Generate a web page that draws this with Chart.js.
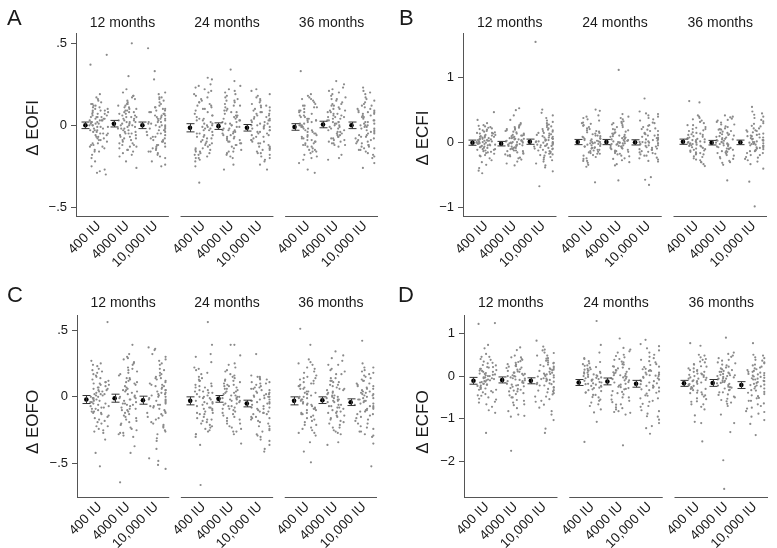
<!DOCTYPE html>
<html>
<head>
<meta charset="utf-8">
<script src="https://cdn.jsdelivr.net/npm/chart.js@4.4.1/dist/chart.umd.min.js"></script>
<style>
  body { margin: 0; background: #fff; }
  #wrap { position: relative; width: 777px; height: 548px; }
  #wrap canvas { position: absolute; }
</style>
</head>
<body>
<div id="wrap">
  <canvas id="cA" width="388" height="270" style="left:0;top:0"></canvas>
  <canvas id="cB" width="389" height="270" style="left:388px;top:0"></canvas>
  <canvas id="cC" width="388" height="270" style="left:0;top:278px"></canvas>
  <canvas id="cD" width="389" height="270" style="left:388px;top:278px"></canvas>
</div>
<script>
const doseLabels = ['400 IU', '4000 IU', '10,000 IU'];
const monthLabels = ['12 months', '24 months', '36 months'];

// A: change in EOFI, one list per dose (400, 4000, 10,000 IU)
const eofi12 = [
  [.43,.37,.19,.17,.16,.14,.13,.12,.11,.10,.09,.09,.08,.07,.07,.06,.05,.05,.04,.04,.03,.03,.02,.02,.01,.01,.00,.00,-.01,-.01,-.02,-.03,-.03,-.04,-.05,-.05,-.06,-.07,-.08,-.09,-.10,-.11,-.12,-.13,-.14,-.15,-.16,-.18,-.20,-.22,-.25,-.27,-.28,-.29,-.30,
   .15,.12,.10,.08,.06,.05,.04,.03,.02,.01,-.01,-.02,-.04,-.06,-.07,-.09,-.11,-.13,.11,.09,.07,.03,.00,-.03,-.05,-.08,-.12,-.16,.13,.05],
  [.50,.30,.22,.20,.18,.17,.15,.14,.13,.12,.11,.10,.09,.08,.08,.07,.06,.05,.05,.04,.03,.03,.02,.02,.01,.00,.00,-.01,-.02,-.02,-.03,-.04,-.05,-.05,-.06,-.07,-.08,-.09,-.10,-.11,-.12,-.13,-.14,-.15,-.16,-.18,-.19,-.22,-.26,
   .16,.13,.11,.09,.07,.06,.04,.03,.01,.00,-.01,-.03,-.04,-.06,-.07,-.09,-.11,-.13,-.15,.12,.08,.05,.02,-.02,-.05,-.08,-.12,.18,.10,-.17],
  [.47,.33,.28,.20,.19,.17,.16,.14,.12,.11,.10,.09,.08,.07,.06,.06,.05,.04,.04,.03,.02,.02,.01,.00,.00,-.01,-.02,-.03,-.03,-.04,-.05,-.06,-.07,-.08,-.09,-.10,-.11,-.12,-.13,-.14,-.15,-.16,-.17,-.18,-.20,-.22,-.24,-.25,
   .15,.13,.11,.09,.08,.06,.05,.03,.02,.01,-.01,-.02,-.04,-.05,-.07,-.08,-.10,-.12,-.14,.10,.07,.04,.00,-.03,-.06,-.09,-.13,.17,-.16,-.19]
];
const eofi24 = [
  [.29,.28,.25,.23,.21,.19,.18,.16,.15,.14,.12,.11,.10,.08,.07,.06,.05,.04,.03,.02,.01,.00,-.01,-.02,-.03,-.04,-.05,-.06,-.07,-.08,-.09,-.10,-.11,-.12,-.13,-.14,-.15,-.16,-.17,-.18,-.19,-.20,-.21,-.22,-.25,-.35,
   .20,.17,.13,.09,.06,.03,.00,-.02,-.05,-.07,-.10,-.12,-.15,-.17,-.20,.24,.14,.10,.04,.01,-.03,-.06,-.08,-.11,-.14,-.18,.22,.12,-.01,-.16],
  [.34,.27,.24,.21,.19,.17,.15,.14,.13,.12,.10,.09,.08,.07,.06,.05,.04,.04,.03,.02,.01,.00,-.01,-.02,-.03,-.03,-.04,-.05,-.06,-.07,-.08,-.09,-.10,-.11,-.12,-.14,-.15,-.16,-.17,-.19,-.20,-.24,-.27,
   .22,.18,.16,.11,.08,.06,.05,.03,.01,.00,-.02,-.04,-.05,-.07,-.09,-.11,-.13,-.16,.20,.12,.09,.02,-.01,-.03,-.06,-.08,-.10,-.12,.15,-.18],
  [.22,.21,.18,.16,.15,.13,.12,.11,.10,.09,.08,.07,.06,.05,.04,.03,.03,.02,.01,.00,.00,-.01,-.02,-.03,-.04,-.05,-.06,-.07,-.08,-.09,-.10,-.11,-.12,-.13,-.14,-.15,-.16,-.17,-.18,-.20,-.21,-.22,-.24,-.27,
   .19,.17,.14,.11,.09,.07,.05,.04,.02,.01,-.01,-.02,-.04,-.05,-.07,-.09,-.11,-.13,-.15,-.17,.12,.08,.03,.00,-.03,-.06,-.10,-.14,-.19,.06]
];
const eofi36 = [
  [.33,.19,.17,.16,.15,.13,.12,.11,.10,.09,.08,.07,.06,.05,.05,.04,.03,.03,.02,.01,.00,.00,-.01,-.02,-.03,-.04,-.05,-.06,-.07,-.08,-.09,-.10,-.11,-.12,-.13,-.14,-.15,-.16,-.17,-.18,-.20,-.23,-.27,-.29,
   .18,.14,.11,.08,.06,.04,.02,.01,-.01,-.02,-.04,-.05,-.07,-.09,-.11,-.13,-.16,-.19,.12,.09,.03,.00,-.03,-.06,-.08,-.10,-.12,-.15,.16,-.21],
  [.27,.25,.23,.21,.19,.17,.16,.15,.13,.12,.11,.10,.09,.08,.07,.06,.05,.05,.04,.03,.02,.02,.01,.00,-.01,-.02,-.03,-.04,-.05,-.06,-.07,-.08,-.09,-.10,-.11,-.12,-.13,-.18,-.20,-.21,
   .22,.20,.18,.14,.12,.10,.08,.07,.05,.03,.02,.00,-.01,-.03,-.05,-.06,-.08,-.10,-.12,.16,.13,.09,.04,.01,-.02,-.04,-.07,-.09,-.11,.06],
  [.23,.21,.19,.17,.15,.14,.12,.11,.10,.09,.08,.08,.07,.06,.05,.04,.03,.02,.01,.00,.00,-.01,-.02,-.03,-.04,-.05,-.06,-.07,-.08,-.09,-.10,-.11,-.12,-.13,-.14,-.15,-.16,-.18,-.19,-.20,-.23,-.26,
   .20,.16,.13,.10,.08,.07,.05,.03,.02,.01,-.01,-.02,-.04,-.05,-.07,-.09,-.11,-.13,-.15,-.17,.12,.09,.06,.00,-.03,-.06,-.08,-.10,-.12,-.14]
];
const eofiMeans = [[0.00, 0.01, 0.00], [-0.015, -0.005, -0.015], [-0.01, 0.005, 0.00]];
const eofiCI = [[0.02, 0.02, 0.02], [0.025, 0.02, 0.02], [0.02, 0.02, 0.02]];
const eofiTicks = [-0.5, 0, 0.5];
const eofiTickLabels = ['\u2212.5', '0', '.5'];

// B: change in ECFI
const ecfi12 = [
  [.47,.35,.30,.27,.25,.23,.21,.19,.18,.16,.15,.14,.12,.11,.10,.09,.08,.07,.06,.05,.04,.03,.03,.02,.01,.00,.00,-.01,-.02,-.03,-.04,-.05,-.06,-.07,-.08,-.10,-.11,-.12,-.14,-.15,-.17,-.19,-.21,-.24,-.27,-.30,-.34,-.39,-.43,-.47,
   .26,.22,.20,.17,.14,.12,.10,.08,.06,.05,.04,.02,.01,-.01,-.02,-.04,-.06,-.08,-.10,-.13,-.16,-.20,.15,.09,.03,.00,-.03,-.07,-.11,.24],
  [.53,.50,.42,.35,.30,.27,.24,.22,.20,.18,.16,.14,.12,.11,.10,.08,.07,.06,.05,.04,.03,.02,.01,.00,-.01,-.02,-.03,-.04,-.05,-.06,-.08,-.09,-.10,-.12,-.13,-.15,-.17,-.19,-.21,-.23,-.26,-.29,-.32,-.35,
   .28,.25,.21,.17,.14,.11,.09,.07,.05,.03,.02,.00,-.01,-.03,-.05,-.07,-.10,-.13,-.16,-.20,-.24,.19,.12,.06,.01,-.04,-.08,-.12,-.18,.23],
  [1.55,.51,.46,.42,.38,.34,.30,.27,.24,.21,.19,.17,.15,.13,.11,.09,.08,.06,.05,.04,.03,.02,.01,.00,-.01,-.02,-.03,-.04,-.05,-.06,-.08,-.09,-.11,-.12,-.14,-.16,-.18,-.20,-.23,-.26,-.29,-.32,-.35,-.38,-.44,-.67,
   .32,.28,.25,.22,.18,.15,.12,.10,.08,.06,.04,.02,.01,-.01,-.03,-.05,-.07,-.10,-.13,-.15,-.19,-.22,-.27,.20,.14,.07,.00,-.04,-.09,-.17]
];
const ecfi24 = [
  [.51,.49,.42,.38,.34,.30,.27,.24,.21,.19,.17,.15,.13,.11,.09,.07,.06,.05,.03,.02,.01,.00,-.01,-.02,-.04,-.05,-.06,-.08,-.09,-.11,-.13,-.15,-.17,-.19,-.22,-.25,-.28,-.31,-.34,-.37,-.61,
   .40,.36,.31,.26,.22,.18,.14,.11,.08,.06,.04,.01,-.01,-.03,-.06,-.08,-.11,-.14,-.17,-.20,-.24,-.28,.29,.16,.10,.03,-.02,-.07,-.12,-.16],
  [1.12,.44,.40,.36,.33,.30,.27,.24,.21,.19,.16,.14,.12,.10,.09,.07,.05,.04,.03,.02,.01,.00,-.01,-.02,-.03,-.05,-.06,-.08,-.10,-.12,-.14,-.16,-.18,-.21,-.24,-.27,-.30,-.33,-.35,-.58,
   .38,.32,.28,.24,.20,.17,.13,.11,.08,.06,.04,.02,.00,-.02,-.04,-.06,-.09,-.11,-.14,-.17,-.20,-.25,.30,.15,.09,.03,-.01,-.05,-.08,-.13],
  [.68,.48,.45,.42,.38,.34,.30,.27,.24,.21,.18,.15,.13,.11,.09,.07,.05,.04,.02,.01,.00,-.01,-.02,-.04,-.05,-.07,-.09,-.11,-.13,-.15,-.18,-.20,-.23,-.26,-.29,-.53,-.57,-.65,
   .44,.40,.36,.31,.26,.22,.18,.14,.11,.08,.06,.03,.01,-.01,-.03,-.06,-.08,-.11,-.14,-.17,-.20,-.24,-.28,.20,.12,.05,.00,-.04,-.10,-.16]
];
const ecfi36 = [
  [.64,.62,.42,.38,.34,.30,.27,.24,.21,.18,.16,.14,.12,.10,.08,.06,.05,.04,.02,.01,.00,-.01,-.02,-.03,-.05,-.06,-.08,-.10,-.12,-.14,-.16,-.18,-.21,-.24,-.27,-.30,-.33,-.36,
   .40,.36,.32,.27,.23,.19,.15,.12,.09,.07,.04,.02,.00,-.02,-.04,-.07,-.09,-.12,-.15,-.18,-.22,-.26,-.30,.21,.13,.06,.01,-.05,-.11,-.17],
  [.42,.40,.37,.34,.31,.28,.25,.22,.20,.17,.15,.13,.11,.09,.07,.05,.04,.03,.01,.00,-.01,-.02,-.04,-.05,-.07,-.09,-.11,-.13,-.15,-.17,-.19,-.22,-.25,-.28,-.31,-.34,-.58,
   .39,.35,.32,.28,.24,.21,.18,.15,.12,.10,.08,.05,.03,.01,-.01,-.03,-.06,-.08,-.10,-.13,-.16,-.20,-.24,-.30,.20,.13,.06,-.02,-.09,-.14],
  [.55,.48,.43,.38,.33,.29,.25,.22,.19,.17,.14,.12,.10,.08,.07,.05,.04,.02,.01,.00,-.01,-.02,-.04,-.05,-.07,-.09,-.11,-.13,-.16,-.19,-.22,-.25,-.29,-.33,-.40,-.60,-.98,
   .45,.40,.35,.30,.26,.22,.19,.16,.13,.10,.08,.06,.03,.01,-.01,-.03,-.05,-.08,-.10,-.13,-.16,-.19,-.23,-.27,.18,.11,.04,-.02,-.07,-.12]
];
const ecfiMeans = [[0.00, -0.015, 0.015], [0.01, 0.01, 0.005], [0.015, 0.00, 0.005]];
const ecfiCI = [[0.04, 0.035, 0.04], [0.04, 0.04, 0.04], [0.04, 0.035, 0.035]];
const ecfiTicks = [-1, 0, 1];
const ecfiTickLabels = ['\u22121', '0', '1'];

// C: change in EOFO
const eofo12 = [
  [.56,.27,.25,.23,.21,.19,.17,.15,.14,.12,.11,.10,.09,.08,.07,.06,.05,.04,.03,.02,.02,.01,.00,-.01,-.02,-.03,-.04,-.05,-.06,-.07,-.08,-.09,-.10,-.11,-.12,-.14,-.15,-.17,-.18,-.20,-.22,-.24,-.26,-.27,-.32,-.42,-.52,
   .24,.20,.16,.13,.11,.09,.07,.05,.04,.02,.01,-.01,-.02,-.04,-.05,-.07,-.09,-.11,-.13,-.16,-.19,-.22,.18,.10,.06,.00,-.03,-.08,-.12,-.25],
  [.39,.32,.30,.28,.26,.24,.22,.20,.18,.16,.14,.13,.11,.10,.08,.07,.05,.04,.03,.01,.00,-.01,-.02,-.04,-.05,-.06,-.08,-.09,-.10,-.12,-.13,-.15,-.17,-.19,-.21,-.23,-.25,-.27,-.29,-.30,-.37,-.42,-.64,
   .29,.25,.21,.17,.14,.11,.09,.06,.04,.02,.00,-.01,-.03,-.05,-.07,-.09,-.11,-.14,-.16,-.18,-.20,-.24,-.27,.19,.12,.05,-.02,-.06,-.10,-.28],
  [.37,.36,.35,.30,.27,.24,.21,.18,.16,.14,.12,.11,.09,.08,.07,.05,.04,.03,.02,.01,.00,-.01,-.02,-.03,-.05,-.06,-.07,-.09,-.10,-.12,-.13,-.15,-.17,-.19,-.21,-.23,-.26,-.28,-.31,-.33,-.39,-.46,-.48,-.51,-.54,
   .32,.28,.25,.20,.17,.15,.13,.10,.08,.06,.05,.03,.01,.00,-.02,-.04,-.06,-.08,-.11,-.14,-.16,-.20,-.22,-.25,.14,.09,.02,-.03,-.07,-.12]
];
const eofo24 = [
  [.56,.39,.32,.30,.26,.22,.20,.17,.14,.12,.10,.08,.07,.05,.04,.03,.02,.00,-.01,-.02,-.04,-.05,-.06,-.08,-.09,-.10,-.12,-.13,-.15,-.17,-.18,-.20,-.22,-.24,-.26,-.28,-.30,-.36,-.66,
   .21,.18,.15,.12,.09,.07,.05,.03,.01,-.01,-.03,-.05,-.07,-.09,-.11,-.13,-.16,-.19,-.21,-.23,-.25,-.28,.13,.08,.04,.00,-.04,-.08,-.12,-.17],
  [.39,.39,.31,.25,.22,.19,.16,.14,.12,.11,.09,.08,.07,.06,.04,.03,.02,.01,.00,-.01,-.02,-.03,-.05,-.06,-.07,-.09,-.10,-.12,-.14,-.16,-.18,-.20,-.22,-.24,-.26,-.28,-.35,
   .24,.20,.17,.15,.12,.10,.08,.06,.05,.03,.01,.00,-.02,-.03,-.05,-.07,-.09,-.11,-.13,-.15,-.17,-.20,-.23,-.26,.13,.09,.04,-.01,-.04,-.08],
  [.32,.16,.15,.14,.13,.11,.10,.08,.07,.06,.05,.04,.03,.02,.01,.00,.00,-.01,-.02,-.03,-.04,-.05,-.06,-.08,-.09,-.10,-.11,-.12,-.13,-.15,-.16,-.18,-.20,-.22,-.24,-.26,-.28,-.30,-.33,-.36,-.39,-.41,
   .15,.13,.11,.09,.07,.05,.03,.02,.00,-.02,-.03,-.05,-.07,-.09,-.11,-.13,-.15,-.17,-.19,-.22,-.25,-.29,-.32,.10,.06,.01,-.04,-.08,-.12,-.16]
];
const eofo36 = [
  [.51,.39,.28,.26,.24,.21,.18,.16,.14,.13,.11,.10,.08,.07,.06,.04,.03,.02,.01,.00,-.01,-.02,-.03,-.05,-.06,-.07,-.09,-.10,-.12,-.13,-.15,-.17,-.19,-.21,-.23,-.25,-.27,-.29,-.34,-.41,-.49,
   .25,.22,.19,.15,.12,.10,.08,.06,.04,.02,.00,-.02,-.04,-.06,-.08,-.10,-.12,-.14,-.16,-.18,-.21,-.24,-.27,.14,.09,.03,-.01,-.05,-.09,-.13],
  [.34,.31,.27,.24,.21,.19,.17,.14,.12,.11,.09,.08,.06,.05,.04,.03,.02,.01,.00,-.01,-.02,-.03,-.04,-.06,-.07,-.08,-.09,-.11,-.12,-.14,-.15,-.17,-.19,-.21,-.23,-.25,-.27,-.28,-.34,-.36,
   .29,.24,.20,.17,.14,.11,.09,.07,.05,.03,.01,-.01,-.02,-.04,-.06,-.08,-.10,-.12,-.14,-.16,-.18,-.20,-.23,-.26,.12,.06,.00,-.03,-.07,-.11],
  [.42,.25,.22,.20,.18,.16,.14,.12,.10,.09,.08,.06,.05,.04,.03,.02,.01,.00,-.01,-.02,-.03,-.04,-.05,-.07,-.08,-.09,-.10,-.11,-.13,-.14,-.16,-.18,-.20,-.22,-.24,-.26,-.28,-.30,-.35,-.52,
   .22,.19,.17,.15,.12,.10,.08,.06,.04,.02,.01,-.01,-.03,-.05,-.07,-.09,-.11,-.13,-.15,-.17,-.20,-.23,-.26,-.29,.13,.07,.03,-.02,-.06,-.10]
];
const eofoMeans = [[-0.02, -0.01, -0.025], [-0.03, -0.015, -0.05], [-0.03, -0.025, -0.04]];
const eofoCI = [[0.03, 0.03, 0.03], [0.03, 0.025, 0.025], [0.03, 0.025, 0.025]];
const eofoTicks = [-0.5, 0, 0.5];
const eofoTickLabels = ['\u2212.5', '0', '.5'];

// D: change in ECFO
const ecfo12 = [
  [1.24,1.22,.73,.65,.52,.45,.40,.34,.30,.25,.21,.17,.14,.10,.07,.04,.02,.00,-.03,-.05,-.08,-.10,-.13,-.15,-.18,-.20,-.23,-.26,-.29,-.32,-.35,-.38,-.42,-.46,-.50,-.55,-.60,-.66,-.72,-.80,-.86,-1.33,
   .45,.38,.31,.26,.21,.17,.13,.10,.06,.03,.00,-.03,-.07,-.10,-.14,-.18,-.22,-.27,-.32,-.38,-.45,-.53,-.62,.20,.12,.05,-.05,-.12,-.20,-.30],
  [.67,.61,.48,.44,.40,.35,.31,.27,.23,.19,.15,.11,.08,.05,.02,.00,-.03,-.06,-.09,-.12,-.15,-.18,-.21,-.24,-.28,-.32,-.36,-.40,-.45,-.50,-.56,-.62,-.68,-.75,-.82,-.90,-.93,-.95,-1.75,
   .44,.38,.33,.28,.24,.20,.16,.12,.08,.05,.02,-.01,-.05,-.08,-.12,-.16,-.20,-.25,-.30,-.36,-.42,-.50,-.58,-.66,.22,.10,.00,-.10,-.22,-.34],
  [.83,.69,.60,.54,.48,.42,.37,.32,.27,.23,.19,.15,.12,.08,.05,.02,.00,-.03,-.06,-.09,-.12,-.16,-.19,-.22,-.26,-.30,-.34,-.38,-.43,-.48,-.54,-.60,-.67,-.74,-.82,-.90,-1.03,-1.23,-1.33,
   .62,.55,.48,.41,.36,.31,.26,.22,.18,.14,.10,.06,.03,-.01,-.05,-.09,-.13,-.17,-.22,-.27,-.33,-.40,-.48,-.58,.30,.16,.04,-.07,-.19,-.36]
];
const ecfo24 = [
  [1.29,.73,.55,.40,.33,.28,.24,.20,.16,.13,.10,.07,.04,.02,.00,-.03,-.05,-.08,-.11,-.14,-.17,-.20,-.23,-.27,-.31,-.35,-.39,-.44,-.49,-.55,-.62,-.70,-.78,-.85,-1.07,-1.54,
   .42,.35,.30,.25,.21,.17,.13,.09,.06,.03,.00,-.04,-.07,-.11,-.15,-.19,-.23,-.28,-.33,-.38,-.44,-.50,-.58,-.66,.15,.08,-.02,-.09,-.18,-.25],
  [.88,.66,.58,.50,.44,.38,.32,.27,.22,.17,.13,.09,.05,.02,.00,-.03,-.07,-.10,-.14,-.18,-.22,-.26,-.30,-.35,-.40,-.45,-.50,-.55,-.61,-.67,-.73,-.78,-.82,-.86,-.90,-1.62,
   .62,.55,.47,.40,.34,.28,.23,.18,.14,.10,.06,.02,-.02,-.06,-.10,-.15,-.20,-.25,-.31,-.37,-.43,-.50,-.58,-.66,-.75,-.84,.20,.08,-.05,-.28],
  [.85,.75,.65,.55,.45,.38,.32,.26,.21,.16,.12,.08,.04,.01,-.02,-.05,-.08,-.12,-.15,-.19,-.23,-.27,-.31,-.36,-.41,-.46,-.52,-.58,-.65,-.72,-.80,-.88,-.95,-1.02,-1.10,-1.17,-1.22,-1.35,
   .70,.60,.50,.42,.35,.28,.22,.17,.12,.08,.04,.00,-.04,-.08,-.12,-.17,-.22,-.27,-.33,-.39,-.45,-.52,-.60,-.70,-.82,-.94,.14,.02,-.10,-.25]
];
const ecfo36 = [
  [.77,.71,.50,.44,.38,.32,.27,.22,.18,.14,.10,.06,.03,.00,-.03,-.06,-.09,-.12,-.15,-.19,-.22,-.26,-.30,-.34,-.38,-.43,-.48,-.54,-.60,-.66,-.72,-.78,-.92,-1.07,-1.10,-1.53,
   .48,.40,.34,.28,.23,.18,.14,.10,.06,.02,-.02,-.06,-.10,-.14,-.18,-.23,-.28,-.33,-.39,-.45,-.52,-.59,-.66,.12,.04,-.04,-.12,-.20,-.30,-.40],
  [.90,.55,.48,.42,.36,.30,.25,.20,.16,.12,.08,.05,.02,.00,-.02,-.05,-.08,-.11,-.14,-.17,-.21,-.25,-.29,-.33,-.38,-.43,-.48,-.53,-.59,-.65,-.70,-.90,-1.10,-1.31,-1.97,-2.64,
   .52,.45,.38,.32,.27,.22,.18,.14,.10,.06,.03,.00,-.03,-.06,-.10,-.14,-.18,-.22,-.27,-.32,-.38,-.44,-.50,-.56,-.62,.10,.02,-.06,-.16,-.26],
  [.77,.50,.44,.38,.32,.27,.22,.18,.14,.10,.07,.04,.01,-.02,-.05,-.08,-.11,-.14,-.18,-.21,-.25,-.29,-.33,-.37,-.42,-.47,-.52,-.58,-.64,-.70,-.76,-.82,-.88,-.95,-1.03,-1.12,-1.38,
   .48,.42,.36,.30,.25,.20,.16,.12,.08,.05,.02,-.01,-.04,-.08,-.12,-.16,-.20,-.24,-.29,-.34,-.39,-.45,-.51,-.58,-.66,-.74,-.84,.10,-.06,-.22]
];
const ecfoMeans = [[-0.11, -0.09, -0.11], [-0.15, -0.125, -0.18], [-0.17, -0.16, -0.21]];
const ecfoCI = [[0.08, 0.07, 0.07], [0.07, 0.08, 0.08], [0.07, 0.08, 0.08]];
const ecfoTicks = [-2, -1, 0, 1];
const ecfoTickLabels = ['\u22122', '\u22121', '0', '1'];

// layout of the x axis: three sub-panels side by side, dose k sits at tick k
const SPAN = 3.67;      // distance between sub-panels
const SUB_MIN = 0.2, SUB_MAX = 3.46;
const HALF_BAND = 0.33; // half width of the jitter band
const MEAN_SHIFT = 0.47;
const FONT = '"Liberation Sans", Arial, Helvetica, sans-serif';
const INK = '#1a1a1a';
const AXIS = '#555';

const panels = [
  { id: 'cA', letter: 'A', title: '\u0394 EOFI', groups: [eofi12, eofi24, eofi36], means: eofiMeans, ci: eofiCI,
    ticks: eofiTicks, tickLabels: eofiTickLabels, min: -0.553, max: 0.563,
    padTop: 33, padRight: 10, yw: 76, xh: 54, letterX: 7, letterY: 25, titleX: 33, titleY: 128, headY: 23 },
  { id: 'cB', letter: 'B', title: '\u0394 ECFI', groups: [ecfi12, ecfi24, ecfi36], means: ecfiMeans, ci: ecfiCI,
    ticks: ecfiTicks, tickLabels: ecfiTickLabels, min: -1.128, max: 1.688,
    padTop: 33, padRight: 10, yw: 75, xh: 54, letterX: 11, letterY: 25, titleX: 35, titleY: 138, headY: 23 },
  { id: 'cC', letter: 'C', title: '\u0394 EOFO', groups: [eofo12, eofo24, eofo36], means: eofoMeans, ci: eofoCI,
    ticks: eofoTicks, tickLabels: eofoTickLabels, min: -0.75, max: 0.613,
    padTop: 37, padRight: 11, yw: 77, xh: 51, letterX: 7, letterY: 24, titleX: 33, titleY: 144, headY: 25 },
  { id: 'cD', letter: 'D', title: '\u0394 ECFO', groups: [ecfo12, ecfo24, ecfo36], means: ecfoMeans, ci: ecfoCI,
    ticks: ecfoTicks, tickLabels: ecfoTickLabels, min: -2.83, max: 1.43,
    padTop: 37, padRight: 9, yw: 76, xh: 51, letterX: 10, letterY: 24, titleX: 35, titleY: 144, headY: 25 }
];

// horizontal jitter inside the band: a fixed hash of the point's index,
// the 10,000 IU groups pile up against the right edge like in the original
function jitter(i, dose, month) {
  const s = Math.sin((i + 1) * 12.9898 + dose * 78.233 + month * 37.719) * 43758.5453;
  let f = s - Math.floor(s);
  if (dose === 2) f = Math.min(1, f * 1.22);
  return f;
}

const tickPos = [];
for (let j = 0; j < 3; j++) for (let k = 1; k <= 3; k++) tickPos.push(k + j * SPAN);

const panelDecor = {
  id: 'panelDecor',
  afterDraw(chart) {
    const p = chart.options.plugins.panelDecor;
    const { ctx, chartArea } = chart;
    const x = chart.scales.x, y = chart.scales.y;
    ctx.save();
    ctx.lineWidth = 1;
    ctx.fillStyle = INK;
    for (let j = 0; j < 3; j++) {
      const x0 = x.getPixelForValue(SUB_MIN + j * SPAN);
      const x1 = x.getPixelForValue(SUB_MAX + j * SPAN);
      ctx.strokeStyle = AXIS;
      ctx.beginPath();
      ctx.moveTo(x0, Math.round(chartArea.bottom) + 0.5);
      ctx.lineTo(x1, Math.round(chartArea.bottom) + 0.5);
      ctx.stroke();
      ctx.font = '14px ' + FONT;
      ctx.textAlign = 'center';
      ctx.textBaseline = 'middle';
      ctx.fillText(monthLabels[j], (x0 + x1) / 2, p.headY);

      // error bars of the means
      ctx.strokeStyle = '#333';
      for (let d = 0; d < 3; d++) {
        const cx = Math.round(x.getPixelForValue(d + 1 + j * SPAN - MEAN_SHIFT)) + 0.5;
        const m = p.means[j][d], c = p.ci[j][d];
        const yt = y.getPixelForValue(m + c), yb = y.getPixelForValue(m - c);
        ctx.beginPath();
        ctx.moveTo(cx, yt); ctx.lineTo(cx, yb);
        ctx.moveTo(cx - 4, yt); ctx.lineTo(cx + 4, yt);
        ctx.moveTo(cx - 4, yb); ctx.lineTo(cx + 4, yb);
        ctx.stroke();
      }
    }
    ctx.font = '22px ' + FONT;
    ctx.textAlign = 'left';
    ctx.textBaseline = 'alphabetic';
    ctx.fillText(p.letter, p.letterX, p.letterY);

    ctx.translate(p.titleX, p.titleY);
    ctx.rotate(-Math.PI / 2);
    ctx.font = '17px ' + FONT;
    ctx.textAlign = 'center';
    ctx.textBaseline = 'middle';
    ctx.fillText(p.title, 0, 0);
    ctx.restore();
  }
};

panels.forEach((p) => {
  const points = [];
  const meanPoints = [];
  p.groups.forEach((month, j) => {
    month.forEach((vals, d) => {
      vals.forEach((v, i) => {
        points.push({ x: d + 1 + j * SPAN - HALF_BAND + 2 * HALF_BAND * jitter(i, d, j), y: v });
      });
      meanPoints.push({ x: d + 1 + j * SPAN - MEAN_SHIFT, y: p.means[j][d] });
    });
  });

  new Chart(document.getElementById(p.id), {
    type: 'scatter',
    data: {
      datasets: [
        { data: meanPoints, pointRadius: 2.3, backgroundColor: '#000', borderWidth: 0, order: 0 },
        { data: points, pointRadius: 1.1, backgroundColor: '#8a8a8a', borderWidth: 0, order: 1 }
      ]
    },
    options: {
      responsive: false,
      animation: false,
      events: [],
      devicePixelRatio: 1,
      layout: { padding: { top: p.padTop, right: p.padRight, bottom: 0, left: 0 } },
      plugins: {
        legend: { display: false },
        tooltip: { enabled: false },
        panelDecor: p
      },
      scales: {
        x: {
          type: 'linear',
          min: SUB_MIN,
          max: SUB_MAX + 2 * SPAN,
          afterBuildTicks: (s) => { s.ticks = tickPos.map((v) => ({ value: v })); },
          afterFit: (s) => { s.height = p.xh; },
          ticks: {
            autoSkip: false, minRotation: 45, maxRotation: 45, padding: 2,
            callback: (v, i) => doseLabels[i % 3],
            font: { family: FONT, size: 13.5 }, color: INK
          },
          grid: { display: false, drawTicks: false },
          border: { display: false }
        },
        y: {
          min: p.min,
          max: p.max,
          afterBuildTicks: (s) => { s.ticks = p.ticks.map((v) => ({ value: v })); },
          afterFit: (s) => { s.width = p.yw; },
          ticks: {
            padding: 4,
            callback: (v, i) => p.tickLabels[i],
            font: { family: FONT, size: 13 }, color: INK
          },
          grid: { drawOnChartArea: false, tickLength: 5, color: AXIS },
          border: { color: AXIS }
        }
      }
    },
    plugins: [panelDecor]
  });
});
</script>
</body>
</html>
